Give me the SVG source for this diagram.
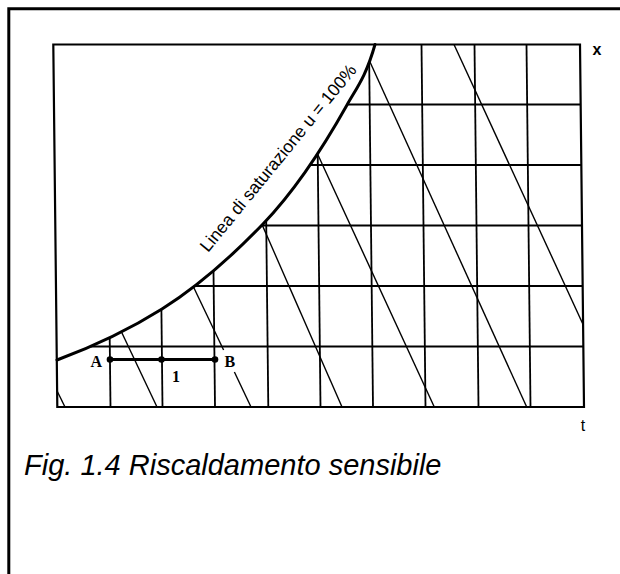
<svg xmlns="http://www.w3.org/2000/svg" width="620" height="574" viewBox="0 0 620 574">
<style>
.frame{stroke:#000;stroke-width:3;fill:none}
.border{stroke:#000;stroke-width:2.2;fill:none}
.grid{stroke:#000;stroke-width:1.8;fill:none}
.diag{stroke:#000;stroke-width:1.4;fill:none}
.sat{stroke:#000;stroke-width:3;fill:none;stroke-linecap:round}
.pt{font-family:"Liberation Serif","Times New Roman",serif;font-size:16px;font-weight:bold;fill:#000}
.ax{font-family:"Liberation Sans",Arial,sans-serif;font-size:16px;fill:#000}
.lbl{font-family:"Liberation Sans",Arial,sans-serif;font-size:17.5px;fill:#000}
.cap{font-family:"Liberation Sans",Arial,sans-serif;font-size:29px;font-style:italic;fill:#000}
</style>
<rect width="620" height="574" fill="#fff"/>
<g id="page-frame">
<path class="frame" d="M8.8,574 L8.8,8.8 L620,8.8"/>
</g>
<g id="chart-border">
<path class="border" d="M53.3,44.5 L580,44.5 L584,407 L57.3,407 Z"/>
</g>
<g id="grid-horizontal">
<line class="grid" x1="347.5" y1="104.5" x2="580.7" y2="104.5"/>
<line class="grid" x1="311" y1="165" x2="581.3" y2="165"/>
<line class="grid" x1="262" y1="225.5" x2="582" y2="225.5"/>
<line class="grid" x1="194" y1="286" x2="582.7" y2="286"/>
<line class="grid" x1="91" y1="346.5" x2="583.3" y2="346.5"/>
</g>
<g id="grid-vertical">
<line class="grid" x1="109.7" y1="338" x2="110.5" y2="407"/>
<line class="grid" x1="161.4" y1="309" x2="162.5" y2="407"/>
<line class="grid" x1="213.5" y1="271" x2="215" y2="407"/>
<line class="grid" x1="266.2" y1="221" x2="268.3" y2="407"/>
<line class="grid" x1="317.7" y1="153.5" x2="320.5" y2="407"/>
<line class="grid" x1="369.2" y1="63" x2="373" y2="407"/>
<line class="grid" x1="421.5" y1="44.5" x2="425.5" y2="407"/>
<line class="grid" x1="474.5" y1="44.5" x2="478.5" y2="407"/>
<line class="grid" x1="526.5" y1="44.5" x2="530.5" y2="407"/>
</g>
<g id="enthalpy-lines">
<line class="diag" x1="57.1" y1="391" x2="65" y2="407"/>
<line class="diag" x1="121.5" y1="332" x2="157" y2="407"/>
<line class="diag" x1="193.5" y1="287" x2="223.6" y2="350"/>
<line class="diag" x1="234.4" y1="372" x2="251" y2="407"/>
<line class="diag" x1="262" y1="224.5" x2="342" y2="407"/>
<line class="diag" x1="318" y1="155" x2="434.3" y2="407"/>
<line class="diag" x1="370" y1="62" x2="526.7" y2="407"/>
<line class="diag" x1="454" y1="44.5" x2="583.3" y2="325"/>
</g>
<g id="saturation-curve">
<path class="sat" d="M57,360 C92,347 127,331 162,309 C195.7,287.8 229.3,259 263,224 C291,194.9 319,155 347,105 C356.3,88.3 365.7,77.5 375,44.5"/>
<text class="lbl" x="208" y="253" transform="rotate(-50.7 208 253)">Linea di saturazione u = 100%</text>
</g>
<g id="process-AB">
<line x1="110" y1="359.5" x2="215" y2="359.5" stroke="#000" stroke-width="3"/>
<circle cx="110" cy="359.5" r="3.3" fill="#000"/>
<circle cx="161.5" cy="359.5" r="3.3" fill="#000"/>
<circle cx="215" cy="359.5" r="3.3" fill="#000"/>
<text class="pt" x="90.5" y="367.3">A</text>
<text class="pt" x="224.5" y="367.3">B</text>
<text class="pt" x="172" y="381.7" font-weight="normal">1</text>
</g>
<g id="axis-labels">
<text class="ax" x="597" y="54.5" text-anchor="middle" font-weight="bold">x</text>
<text class="ax" x="583" y="430.7" text-anchor="middle">t</text>
</g>
<g id="caption">
<text class="cap" x="24" y="475">Fig. 1.4 Riscaldamento sensibile</text>
</g>
</svg>
